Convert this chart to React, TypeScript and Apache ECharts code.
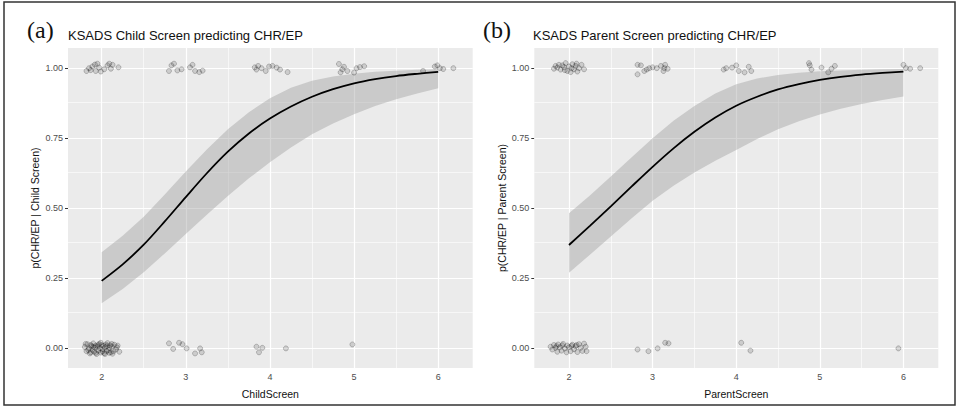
import React, { useEffect, useRef } from 'react';
import * as echarts from 'echarts';

// ---- data ----
const fitX = [2, 2.25, 2.5, 2.75, 3, 3.25, 3.5, 3.75, 4, 4.25, 4.5, 4.75, 5, 5.25, 5.5, 5.75, 6];

const childFit = [0.241, 0.3, 0.37, 0.453, 0.54, 0.625, 0.702, 0.767, 0.82, 0.863, 0.898, 0.925, 0.946, 0.961, 0.972, 0.98, 0.987];
const childUpper = [0.343, 0.402, 0.47, 0.549, 0.631, 0.71, 0.782, 0.843, 0.893, 0.93, 0.955, 0.97, 0.98, 0.987, 0.991, 0.994, 0.996];
const childLower = [0.161, 0.212, 0.272, 0.339, 0.408, 0.477, 0.544, 0.607, 0.664, 0.717, 0.764, 0.803, 0.836, 0.865, 0.889, 0.91, 0.928];

const parentFit = [0.369, 0.437, 0.507, 0.578, 0.648, 0.714, 0.773, 0.824, 0.866, 0.898, 0.924, 0.943, 0.958, 0.969, 0.977, 0.983, 0.988];
const parentUpper = [0.482, 0.546, 0.613, 0.682, 0.75, 0.812, 0.865, 0.91, 0.943, 0.963, 0.976, 0.984, 0.989, 0.992, 0.994, 0.996, 0.997];
const parentLower = [0.27, 0.334, 0.399, 0.464, 0.527, 0.58, 0.628, 0.67, 0.708, 0.747, 0.782, 0.811, 0.835, 0.855, 0.872, 0.886, 0.899];

const childPositive = [
  [1.82, 0.99], [1.85, 1.0], [1.87, 0.993], [1.89, 1.006], [1.92, 1.013], [1.93, 0.99], [1.95, 1.016], [1.97, 1.002],
  [1.99, 0.988], [2.03, 0.996], [2.07, 1.01], [2.09, 1.016], [2.11, 0.998], [2.13, 1.012], [2.2, 1.003],
  [2.8, 0.99], [2.83, 1.01], [2.86, 1.016], [2.9, 0.992], [2.95, 0.996], [3.05, 1.003], [3.08, 1.012], [3.11, 0.99],
  [3.16, 0.986], [3.2, 0.991],
  [3.82, 1.003], [3.84, 0.995], [3.86, 1.008], [3.9, 1.0], [3.95, 0.99], [3.99, 1.006], [4.03, 1.008], [4.08, 1.002],
  [4.12, 0.995], [4.21, 0.986],
  [4.82, 1.015], [4.84, 0.985], [4.86, 0.996], [4.88, 1.005], [4.92, 0.99], [5.0, 0.984], [5.03, 1.0], [5.07, 1.004],
  [5.12, 1.007],
  [5.82, 0.99], [5.96, 1.006], [5.99, 1.01], [6.02, 1.0], [6.06, 0.997], [6.18, 1.0],
];

const childNegative = [
  [1.8, 0.005], [1.82, -0.01], [1.83, 0.015], [1.85, 0.0], [1.86, -0.018], [1.87, 0.012], [1.88, 0.008], [1.89, -0.005],
  [1.9, 0.018], [1.91, -0.012], [1.92, 0.003], [1.93, 0.01], [1.94, -0.02], [1.95, 0.006], [1.96, -0.008], [1.97, 0.016],
  [1.98, 0.0], [1.99, -0.015], [2.0, 0.012], [2.01, -0.003], [2.02, 0.009], [2.03, -0.017], [2.04, 0.004], [2.05, 0.014],
  [2.06, -0.009], [2.07, 0.019], [2.08, -0.006], [2.09, 0.002], [2.1, 0.011], [2.11, -0.014], [2.12, 0.007],
  [2.13, -0.019], [2.15, 0.013], [2.17, -0.004], [2.19, 0.01],
  [1.81, 0.016], [1.84, -0.006], [1.87, -0.014], [1.9, 0.006], [1.93, -0.016], [1.96, 0.012], [1.99, 0.02],
  [2.01, -0.011], [2.04, -0.02], [2.06, 0.008], [2.09, -0.016], [2.12, 0.016], [2.14, -0.01], [2.18, 0.004], [2.21, -0.012],
  [2.8, 0.018], [2.85, -0.002], [2.92, 0.02], [2.96, 0.015], [3.01, 0.0], [3.11, -0.018], [3.17, 0.0], [3.19, -0.014],
  [3.84, 0.006], [3.87, -0.014], [3.91, 0.002], [4.19, 0.0],
  [4.98, 0.014],
];

const parentPositive = [
  [1.82, 0.998], [1.84, 1.008], [1.86, 1.002], [1.88, 1.012], [1.9, 0.995], [1.92, 1.01], [1.94, 1.004], [1.96, 1.018],
  [1.98, 0.99], [2.0, 1.006], [2.02, 0.986], [2.04, 1.014], [2.06, 0.996], [2.08, 1.008], [2.1, 0.988], [2.12, 1.0],
  [2.15, 1.012], [2.18, 0.996], [1.95, 0.993], [2.03, 1.0], [2.09, 1.016],
  [2.82, 1.012], [2.82, 0.978], [2.86, 1.01], [2.9, 0.99], [2.93, 0.995], [2.96, 1.0], [3.0, 1.003], [3.05, 1.0],
  [3.1, 1.008], [3.13, 0.99], [3.15, 1.012], [3.18, 0.998], [3.14, 1.0],
  [3.85, 0.995], [3.88, 1.0], [3.95, 1.002], [4.0, 1.01], [4.03, 0.99], [4.1, 0.985], [4.15, 1.005], [4.18, 0.99],
  [4.87, 1.018], [4.88, 1.01], [4.9, 0.995], [5.02, 1.002], [5.1, 0.985], [5.14, 0.998], [5.18, 1.008],
  [6.0, 1.012], [6.03, 1.0], [6.08, 0.998], [6.2, 1.0],
];

const parentNegative = [
  [1.78, 0.006], [1.8, -0.004], [1.82, 0.012], [1.84, 0.002], [1.86, -0.012], [1.87, 0.014], [1.89, 0.004],
  [1.91, -0.008], [1.93, 0.016], [1.95, 0.0], [1.97, -0.014], [1.98, 0.01], [2.0, 0.004], [2.02, -0.01], [2.04, 0.013],
  [2.06, -0.003], [2.08, 0.008], [2.1, -0.013], [2.12, 0.015], [2.14, 0.002], [2.16, -0.009], [2.18, 0.017],
  [2.2, 0.006], [2.21, -0.01], [1.85, 0.008], [1.92, 0.011], [2.03, 0.009], [2.09, 0.012],
  [2.82, -0.004], [2.95, -0.01], [3.06, 0.0], [3.15, 0.02], [3.19, 0.018],
  [4.06, 0.02], [4.17, -0.008],
  [5.94, 0.0],
];

const xMajor = [2, 3, 4, 5, 6];
const xMinor = [2.5, 3.5, 4.5, 5.5];
const yMajor = [0, 0.25, 0.5, 0.75, 1];
const yMinor = [0.125, 0.375, 0.625, 0.875];

const titles = ['KSADS Child Screen predicting CHR/EP', 'KSADS Parent Screen predicting CHR/EP'];
const panelTags = ['(a)', '(b)'];
const xNames = ['ChildScreen', 'ParentScreen'];
const yNames = ['p(CHR/EP | Child Screen)', 'p(CHR/EP | Parent Screen)'];

const SANS = 'Liberation Sans, Arial, sans-serif';

function gridLines() {
  const major = { color: '#ffffff', width: 1.2, type: 'solid' };
  const minor = { color: '#ffffff', width: 0.6, type: 'solid' };
  return [
    ...xMinor.map((v) => ({ xAxis: v, lineStyle: minor })),
    ...yMinor.map((v) => ({ yAxis: v, lineStyle: minor })),
    ...xMajor.map((v) => ({ xAxis: v, lineStyle: major })),
    ...yMajor.map((v) => ({ yAxis: v, lineStyle: major })),
  ];
}

function panelSeries(idx: number, fit: number[], upper: number[], lower: number[], pos: number[][], neg: number[][]) {
  return [
    {
      type: 'custom',
      xAxisIndex: idx,
      yAxisIndex: idx,
      z: 2,
      silent: true,
      clip: true,
      data: [[fitX[0], fit[0]]],
      renderItem: (_p: any, api: any) => {
        const top = fitX.map((x, i) => api.coord([x, upper[i]]));
        const bot = fitX.map((x, i) => api.coord([x, lower[i]])).reverse();
        return {
          type: 'polygon',
          shape: { points: top.concat(bot) },
          style: { fill: 'rgba(153,153,153,0.4)' },
        };
      },
    },
    {
      type: 'line',
      xAxisIndex: idx,
      yAxisIndex: idx,
      z: 3,
      silent: true,
      data: fitX.map((x, i) => [x, fit[i]]),
      showSymbol: false,
      smooth: 0.3,
      lineStyle: { color: '#000000', width: 1.8 },
    },
    {
      type: 'scatter',
      xAxisIndex: idx,
      yAxisIndex: idx,
      z: 4,
      silent: true,
      data: [...pos, ...neg],
      symbolSize: 5,
      itemStyle: { color: 'rgba(0,0,0,0.16)', borderColor: 'rgba(0,0,0,0.38)', borderWidth: 0.7 },
      markLine: {
        silent: true,
        z: 1,
        symbol: ['none', 'none'],
        label: { show: false },
        emphasis: { disabled: true },
        data: gridLines(),
      },
    },
  ];
}

function xAxisOf(idx: number, min: number, max: number) {
  return {
    gridIndex: idx,
    type: 'value',
    min,
    max,
    name: xNames[idx],
    nameLocation: 'middle',
    nameGap: 20,
    nameTextStyle: { fontSize: 10.5, color: '#111', fontFamily: SANS },
    axisLine: { show: false },
    axisTick: { show: true, length: 3, lineStyle: { color: '#333', width: 1 }, customValues: xMajor },
    axisLabel: { customValues: xMajor, fontSize: 9, color: '#4D4D4D', margin: 4, fontFamily: SANS },
    splitLine: { show: false },
  };
}

function yAxisOf(idx: number, gap: number) {
  return {
    gridIndex: idx,
    type: 'value',
    min: -0.07,
    max: 1.072,
    name: yNames[idx],
    nameLocation: 'middle',
    nameGap: gap,
    nameTextStyle: { fontSize: 10.5, color: '#111', fontFamily: SANS },
    axisLine: { show: false },
    axisTick: { show: true, length: 3, lineStyle: { color: '#333', width: 1 }, customValues: yMajor },
    axisLabel: {
      customValues: yMajor,
      fontSize: 9,
      color: '#4D4D4D',
      margin: 5,
      fontFamily: SANS,
      formatter: (v: number) => v.toFixed(2),
    },
    splitLine: { show: false },
  };
}

export default function App() {
  const ref = useRef<HTMLDivElement>(null);
  useEffect(() => {
    document.body.style.margin = '0';
    const chart = echarts.init(ref.current!, null, { renderer: 'svg' });
    const option: any = {
      animation: false,
      backgroundColor: '#ffffff',
      grid: [
        { left: 68, width: 404.7, top: 48, height: 320, show: true, backgroundColor: '#EBEBEB', borderWidth: 0 },
        { left: 534.3, width: 404, top: 48, height: 320, show: true, backgroundColor: '#EBEBEB', borderWidth: 0 },
      ],
      xAxis: [xAxisOf(0, 1.6, 6.41), xAxisOf(1, 1.585, 6.417)],
      yAxis: [yAxisOf(0, 28), yAxisOf(1, 26)],
      series: [
        ...panelSeries(0, childFit, childUpper, childLower, childPositive, childNegative),
        ...panelSeries(1, parentFit, parentUpper, parentLower, parentPositive, parentNegative),
      ],
      graphic: [
        {
          type: 'rect',
          silent: true,
          shape: { x: 4, y: 2, width: 951, height: 403 },
          style: { fill: 'none', stroke: '#333', lineWidth: 1.5 },
        },
        {
          type: 'text', x: 27, y: 30,
          style: { text: panelTags[0], fontSize: 24, fontFamily: 'Liberation Serif, serif', fill: '#111', verticalAlign: 'middle', align: 'left' },
        },
        {
          type: 'text', x: 68, y: 35,
          style: { text: titles[0], fontSize: 13, fontFamily: SANS, fill: '#111', verticalAlign: 'middle', align: 'left' },
        },
        {
          type: 'text', x: 483, y: 30,
          style: { text: panelTags[1], fontSize: 24, fontFamily: 'Liberation Serif, serif', fill: '#111', verticalAlign: 'middle', align: 'left' },
        },
        {
          type: 'text', x: 533, y: 35,
          style: { text: titles[1], fontSize: 13, fontFamily: SANS, fill: '#111', verticalAlign: 'middle', align: 'left' },
        },
      ],
    };
    chart.setOption(option);
    return () => chart.dispose();
  }, []);
  return <div ref={ref} style={{ width: 960, height: 408 }} />;
}
